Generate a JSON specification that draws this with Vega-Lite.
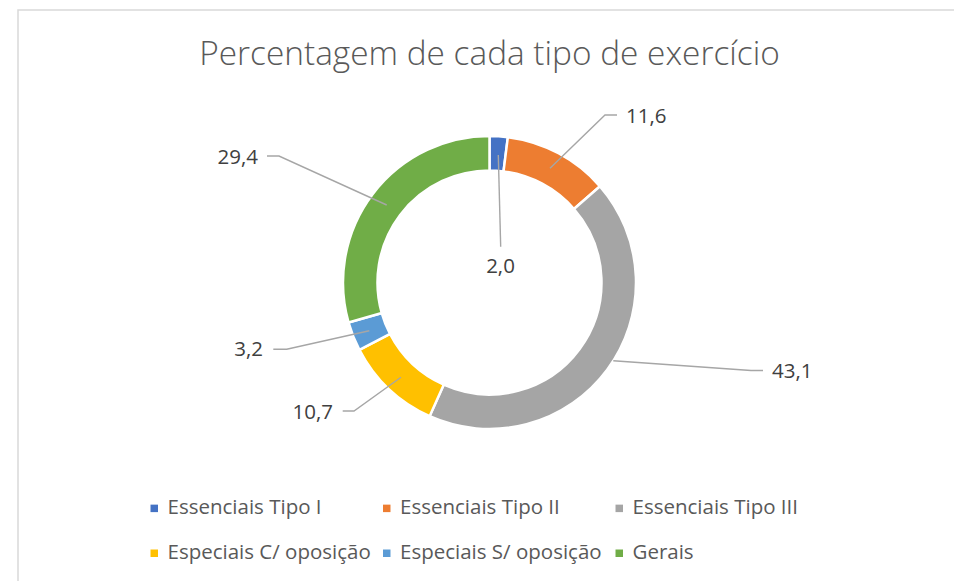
{
  "$schema": "https://vega.github.io/schema/vega-lite/v6.json",
  "width": 937,
  "height": 572,
  "padding": {"left": 18, "top": 10, "right": 0, "bottom": 0},
  "autosize": {"type": "none"},
  "background": "white",
  "config": {
    "view": {"stroke": "#D9D9D9", "strokeWidth": 1.5},
    "locale": {"number": {"decimal": ",", "thousands": ".", "grouping": [3], "currency": ["", " €"]}},
    "font": "Open Sans"
  },
  "title": {
    "text": "Percentagem de cada tipo de exercício",
    "font": "Open Sans",
    "fontSize": 33.4,
    "fontWeight": 300,
    "color": "#595959",
    "anchor": "middle",
    "baseline": "alphabetic",
    "offset": -88,
    "dx": 3
  },
  "datasets": {
    "fatias": [
      {"tipo": "Essenciais Tipo I", "percentagem": 2.0, "ordem": 1},
      {"tipo": "Essenciais Tipo II", "percentagem": 11.6, "ordem": 2},
      {"tipo": "Essenciais Tipo III", "percentagem": 43.1, "ordem": 3},
      {"tipo": "Especiais C/ oposição", "percentagem": 10.7, "ordem": 4},
      {"tipo": "Especiais S/ oposição", "percentagem": 3.2, "ordem": 5},
      {"tipo": "Gerais", "percentagem": 29.4, "ordem": 6}
    ],
    "guias": [
      {"tipo": "Essenciais Tipo I", "passo": 1, "gx": 8.8, "gy": 127.5},
      {"tipo": "Essenciais Tipo I", "passo": 2, "gx": 11.2, "gy": 35.8},
      {"tipo": "Essenciais Tipo II", "passo": 1, "gx": 60.5, "gy": 114.2},
      {"tipo": "Essenciais Tipo II", "passo": 2, "gx": 115.5, "gy": 167.5},
      {"tipo": "Essenciais Tipo II", "passo": 3, "gx": 127.5, "gy": 167.5},
      {"tipo": "Essenciais Tipo III", "passo": 1, "gx": 123.8, "gy": -78.2},
      {"tipo": "Essenciais Tipo III", "passo": 2, "gx": 261.5, "gy": -88},
      {"tipo": "Essenciais Tipo III", "passo": 3, "gx": 273.5, "gy": -88},
      {"tipo": "Especiais C/ oposição", "passo": 1, "gx": -88.5, "gy": -94.8},
      {"tipo": "Especiais C/ oposição", "passo": 2, "gx": -135.5, "gy": -128.5},
      {"tipo": "Especiais C/ oposição", "passo": 3, "gx": -146.8, "gy": -128.5},
      {"tipo": "Especiais S/ oposição", "passo": 1, "gx": -120.2, "gy": -48.2},
      {"tipo": "Especiais S/ oposição", "passo": 2, "gx": -202.8, "gy": -66.8},
      {"tipo": "Especiais S/ oposição", "passo": 3, "gx": -216.2, "gy": -66.8},
      {"tipo": "Gerais", "passo": 1, "gx": -102.8, "gy": 77.5},
      {"tipo": "Gerais", "passo": 2, "gx": -210.5, "gy": 126.5},
      {"tipo": "Gerais", "passo": 3, "gx": -222.5, "gy": 126.5}
    ],
    "rotulos": [
      {"tipo": "Essenciais Tipo I", "lx": 11, "ly": 15.8},
      {"tipo": "Essenciais Tipo II", "lx": 136.5, "ly": 166},
      {"tipo": "Essenciais Tipo III", "lx": 282.5, "ly": -89.5},
      {"tipo": "Especiais C/ oposição", "lx": -156.5, "ly": -130.5},
      {"tipo": "Especiais S/ oposição", "lx": -226.5, "ly": -67.5},
      {"tipo": "Gerais", "lx": -231.5, "ly": 124.5}
    ]
  },
  "layer": [
    {
      "data": {"name": "fatias"},
      "mark": {"type": "arc", "innerRadius": 112, "outerRadius": 146.5, "stroke": "white", "strokeWidth": 2.5},
      "encoding": {
        "theta": {"field": "percentagem", "type": "quantitative", "stack": true},
        "order": {"field": "ordem", "type": "quantitative"},
        "color": {
          "field": "tipo",
          "type": "nominal",
          "scale": {
            "domain": ["Essenciais Tipo I", "Essenciais Tipo II", "Essenciais Tipo III", "Especiais C/ oposição", "Especiais S/ oposição", "Gerais"],
            "range": ["#4472C4", "#ED7D31", "#A5A5A5", "#FFC000", "#5B9BD5", "#70AD47"]
          },
          "legend": {
            "orient": "none",
            "legendX": 126,
            "legendY": 488,
            "title": null,
            "columns": 3,
            "direction": "horizontal",
            "symbolType": "square",
            "symbolSize": 56,
            "symbolStrokeWidth": 0,
            "labelFont": "Open Sans",
            "labelFontSize": 20.5,
            "labelColor": "#595959",
            "labelOffset": 3,
            "columnPadding": 5.5,
            "rowPadding": 24,
            "gridAlign": "all",
            "labelLimit": 0
          }
        },
        "x": {"datum": 0, "type": "quantitative", "scale": {"domain": [-471.5, 465.5], "nice": false, "zero": false}, "axis": null},
        "y": {"datum": 0, "type": "quantitative", "scale": {"domain": [-299.5, 272.5], "nice": false, "zero": false}, "axis": null}
      }
    },
    {
      "data": {"name": "guias"},
      "mark": {"type": "line", "color": "#A6A6A6", "strokeWidth": 1.4},
      "encoding": {
        "x": {"field": "gx", "type": "quantitative"},
        "y": {"field": "gy", "type": "quantitative"},
        "detail": {"field": "tipo", "type": "nominal"},
        "order": {"field": "passo", "type": "quantitative"}
      }
    },
    {
      "data": {"name": "rotulos"},
      "transform": [
        {"lookup": "tipo", "from": {"data": {"name": "fatias"}, "key": "tipo", "fields": ["percentagem"]}},
        {"filter": {"field": "tipo", "oneOf": ["Essenciais Tipo I"]}}
      ],
      "mark": {"type": "text", "align": "center", "baseline": "middle", "fontSize": 20.5, "font": "Open Sans", "color": "#404040"},
      "encoding": {
        "x": {"field": "lx", "type": "quantitative"},
        "y": {"field": "ly", "type": "quantitative"},
        "text": {"field": "percentagem", "type": "quantitative", "format": ".1f"}
      }
    },
    {
      "data": {"name": "rotulos"},
      "transform": [
        {"lookup": "tipo", "from": {"data": {"name": "fatias"}, "key": "tipo", "fields": ["percentagem"]}},
        {"filter": {"field": "tipo", "oneOf": ["Essenciais Tipo II", "Essenciais Tipo III"]}}
      ],
      "mark": {"type": "text", "align": "left", "baseline": "middle", "fontSize": 20.5, "font": "Open Sans", "color": "#404040"},
      "encoding": {
        "x": {"field": "lx", "type": "quantitative"},
        "y": {"field": "ly", "type": "quantitative"},
        "text": {"field": "percentagem", "type": "quantitative", "format": ".1f"}
      }
    },
    {
      "data": {"name": "rotulos"},
      "transform": [
        {"lookup": "tipo", "from": {"data": {"name": "fatias"}, "key": "tipo", "fields": ["percentagem"]}},
        {"filter": {"field": "tipo", "oneOf": ["Especiais C/ oposição", "Especiais S/ oposição", "Gerais"]}}
      ],
      "mark": {"type": "text", "align": "right", "baseline": "middle", "fontSize": 20.5, "font": "Open Sans", "color": "#404040"},
      "encoding": {
        "x": {"field": "lx", "type": "quantitative"},
        "y": {"field": "ly", "type": "quantitative"},
        "text": {"field": "percentagem", "type": "quantitative", "format": ".1f"}
      }
    }
  ]
}
